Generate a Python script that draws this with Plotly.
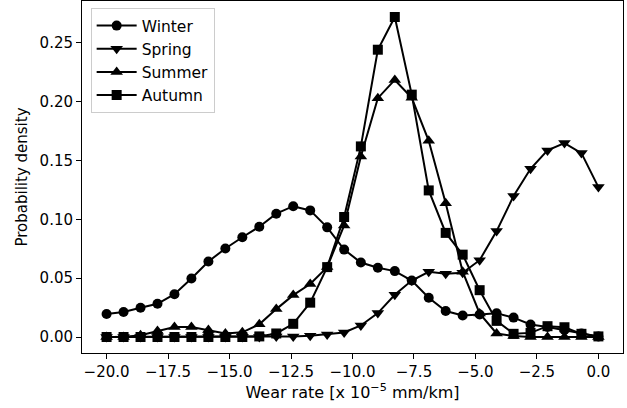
import plotly.graph_objects as go

wear_rate = [-20.0, -19.31, -18.62, -17.93, -17.24, -16.55, -15.86, -15.17, -14.48, -13.79,
             -13.10, -12.41, -11.72, -11.03, -10.34, -9.66, -8.97, -8.28, -7.59, -6.90,
             -6.21, -5.52, -4.83, -4.14, -3.45, -2.76, -2.07, -1.38, -0.69, 0.0]

winter = [0.0195, 0.0212, 0.0248, 0.0282, 0.0364, 0.0497, 0.0642, 0.0752, 0.0848, 0.0937,
          0.1048, 0.1112, 0.1076, 0.0932, 0.0743, 0.0633, 0.0588, 0.0560, 0.0480, 0.0333,
          0.0221, 0.0183, 0.0191, 0.0201, 0.0165, 0.0106, 0.0085, 0.0060, 0.0030, 0.0004]

spring = [0.0, 0.0, 0.0, 0.0, 0.0, 0.0, 0.0, 0.0, 0.0, 0.0,
          0.0005, 0.0005, 0.0010, 0.0022, 0.0038, 0.0098, 0.0203, 0.0359, 0.0480, 0.0554,
          0.0537, 0.0546, 0.0653, 0.0900, 0.1198, 0.1430, 0.1586, 0.1648, 0.1563, 0.1274]

summer = [0.0, 0.0, 0.0015, 0.0050, 0.0085, 0.0085, 0.0060, 0.0030, 0.0040, 0.0108,
          0.0237, 0.0356, 0.0450, 0.0594, 0.0948, 0.1535, 0.2030, 0.2185, 0.2033, 0.1668,
          0.1136, 0.0555, 0.0200, 0.0030, 0.0008, 0.0, 0.0, 0.0, 0.0, 0.0]

autumn = [0.0, 0.0, 0.0, 0.0, 0.0, 0.0, 0.0, 0.0, 0.0, 0.0005,
          0.0030, 0.0112, 0.0292, 0.0594, 0.1020, 0.1620, 0.2442, 0.2720, 0.2060, 0.1246,
          0.0885, 0.0700, 0.0398, 0.0137, 0.0027, 0.0035, 0.0092, 0.0083, 0.0027, 0.0005]

series = [("Winter", winter, "circle", 10),
          ("Spring", spring, "triangle-down", 11),
          ("Summer", summer, "triangle-up", 11),
          ("Autumn", autumn, "square", 10)]

x_tickvals = [-20.0, -17.5, -15.0, -12.5, -10.0, -7.5, -5.0, -2.5, 0.0]
x_ticktext = ["\u221220.0", "\u221217.5", "\u221215.0", "\u221212.5", "\u221210.0",
              "\u22127.5", "\u22125.0", "\u22122.5", "0.0"]
y_tickvals = [0.0, 0.05, 0.10, 0.15, 0.20, 0.25]

fig = go.Figure()
for name, vals, sym, size in series:
    fig.add_trace(go.Scatter(
        x=wear_rate, y=vals, name=name, mode="lines+markers",
        line=dict(color="black", width=2),
        marker=dict(symbol=sym, size=size, color="black", line=dict(width=0)),
    ))

font = dict(family="DejaVu Sans", size=15, color="black")
legend_font = dict(family="DejaVu Sans", size=15.5, color="black")
xtitle_font = dict(family="DejaVu Sans", size=16, color="black")
fig.update_layout(
    width=627, height=408,
    margin=dict(l=82, r=4, t=1, b=55),
    paper_bgcolor="white", plot_bgcolor="white",
    font=font,
    showlegend=True,
    legend=dict(x=0.016, y=0.98, xanchor="left", yanchor="top",
                bgcolor="rgba(255,255,255,0.8)", bordercolor="#cccccc", borderwidth=1,
                font=legend_font, tracegroupgap=0, itemwidth=40),
    xaxis=dict(range=[-21, 1], tickvals=x_tickvals, ticktext=x_ticktext,
               automargin=False,
               showgrid=False, zeroline=False, showline=True, linecolor="black",
               linewidth=1, mirror=True, ticks="outside", ticklen=5, tickwidth=1,
               tickcolor="black",
               title=dict(text="Wear rate [x 10<sup>\u22125</sup> mm/km]", font=xtitle_font, standoff=6)),
    yaxis=dict(range=[-0.0136, 0.2856], tickvals=y_tickvals, tickformat=".2f",
               automargin=False,
               showgrid=False, zeroline=False, showline=True, linecolor="black",
               linewidth=1, mirror=True, ticks="outside", ticklen=5, tickwidth=1,
               tickcolor="black",
               title=dict(text="Probability density", font=font, standoff=8)),
)

fig.write_html("out.html", config={"displayModeBar": False},
               post_script="document.body.style.margin='0';document.body.style.padding='0';")
